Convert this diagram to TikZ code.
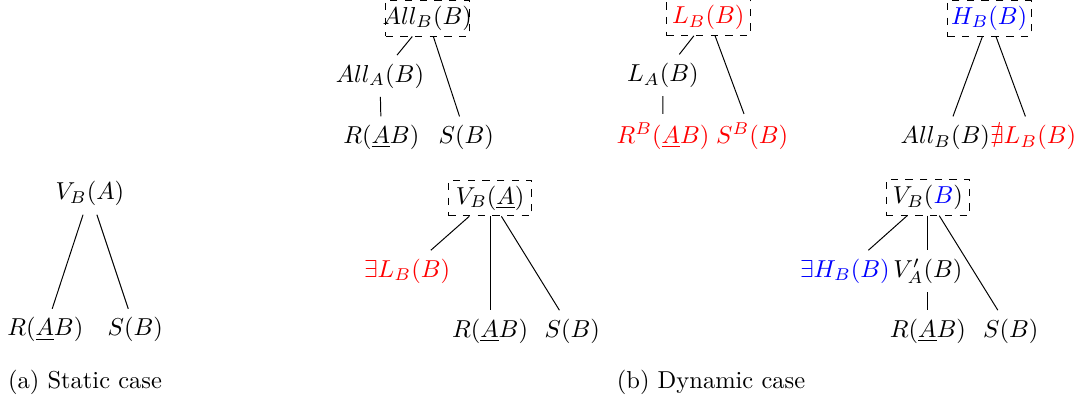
\documentclass[tikz,border=0pt]{standalone}
\usepackage{amsmath,amssymb}
\usepackage{tikz}

\begin{document}
\begin{tikzpicture}[root/.style={draw, dashed, inner ysep=2.3pt, inner xsep=-2pt, minimum width=1.2cm}]
  \useasboundingbox (0,0) rectangle (15.55,-5.77);
  % (a) static case
  \node (vba) at (1.29,-2.78) {$V_B(A)$};
  \node (rab) at (0.65,-4.73) {$R(\underline{A}B)$};
  \node (sb) at (1.94,-4.73) {$S(B)$};
  \draw (vba)--(rab); \draw (vba)--(sb);
  \node (capa) at (1.22,-5.49) {(a) Static case};
  % (b) dynamic case: three upper trees
  \node[root] (allbb) at (6.13,-0.26) {$All_B(B)$};
  \node (allab) at (5.45,-1.09) {$All_A(B)$};
  \node (rab1) at (5.47,-1.97) {$R(\underline{A}B)$};
  \node (sb1) at (6.69,-1.97) {$S(B)$};
  \draw (allbb)--(allab)--(rab1); \draw (allbb)--(sb1);
  \node[root, text=red] (lbb) at (10.16,-0.25) {$L_B(B)$};
  \node (lab) at (9.51,-1.08) {$L_A(B)$};
  \node[text=red] (rb) at (9.51,-1.95) {$R^B(\underline{A}B)$};
  \node[text=red] (sbb) at (10.79,-1.95) {$S^B(B)$};
  \draw (lbb)--(lab)--(rb); \draw (lbb)--(sbb);
  \node[root, text=blue] (hbb) at (14.19,-0.26) {$H_B(B)$};
  \node (allbb2) at (13.56,-1.97) {$All_B(B)$};
  \node[text=red] (nlb) at (14.82,-1.97) {$\nexists L_B(B)$};
  \draw (hbb)--(allbb2); \draw (hbb)--(nlb);
  % two lower trees
  \node[root] (vba2) at (7.03,-2.84) {$V_B(\underline{A})$};
  \node[text=red] (elb) at (5.84,-3.89) {$\exists L_B(B)$};
  \node (rab2) at (7.03,-4.75) {$R(\underline{A}B)$};
  \node (sb2) at (8.21,-4.75) {$S(B)$};
  \draw (vba2)--(elb); \draw (vba2)--(rab2); \draw (vba2)--(sb2);
  \node[root] (vbb) at (13.31,-2.83) {$V_B({\color{blue}B})$};
  \node[text=blue] (ehb) at (12.12,-3.89) {$\exists H_B(B)$};
  \node (vpab) at (13.31,-3.89) {$V'_A(B)$};
  \node (rab3) at (13.31,-4.75) {$R(\underline{A}B)$};
  \node (sb3) at (14.50,-4.75) {$S(B)$};
  \draw (vbb)--(ehb); \draw (vbb)--(vpab)--(rab3); \draw (vbb)--(sb3);
  \node (capb) at (10.20,-5.49) {(b) Dynamic case};
\end{tikzpicture}
\end{document}
